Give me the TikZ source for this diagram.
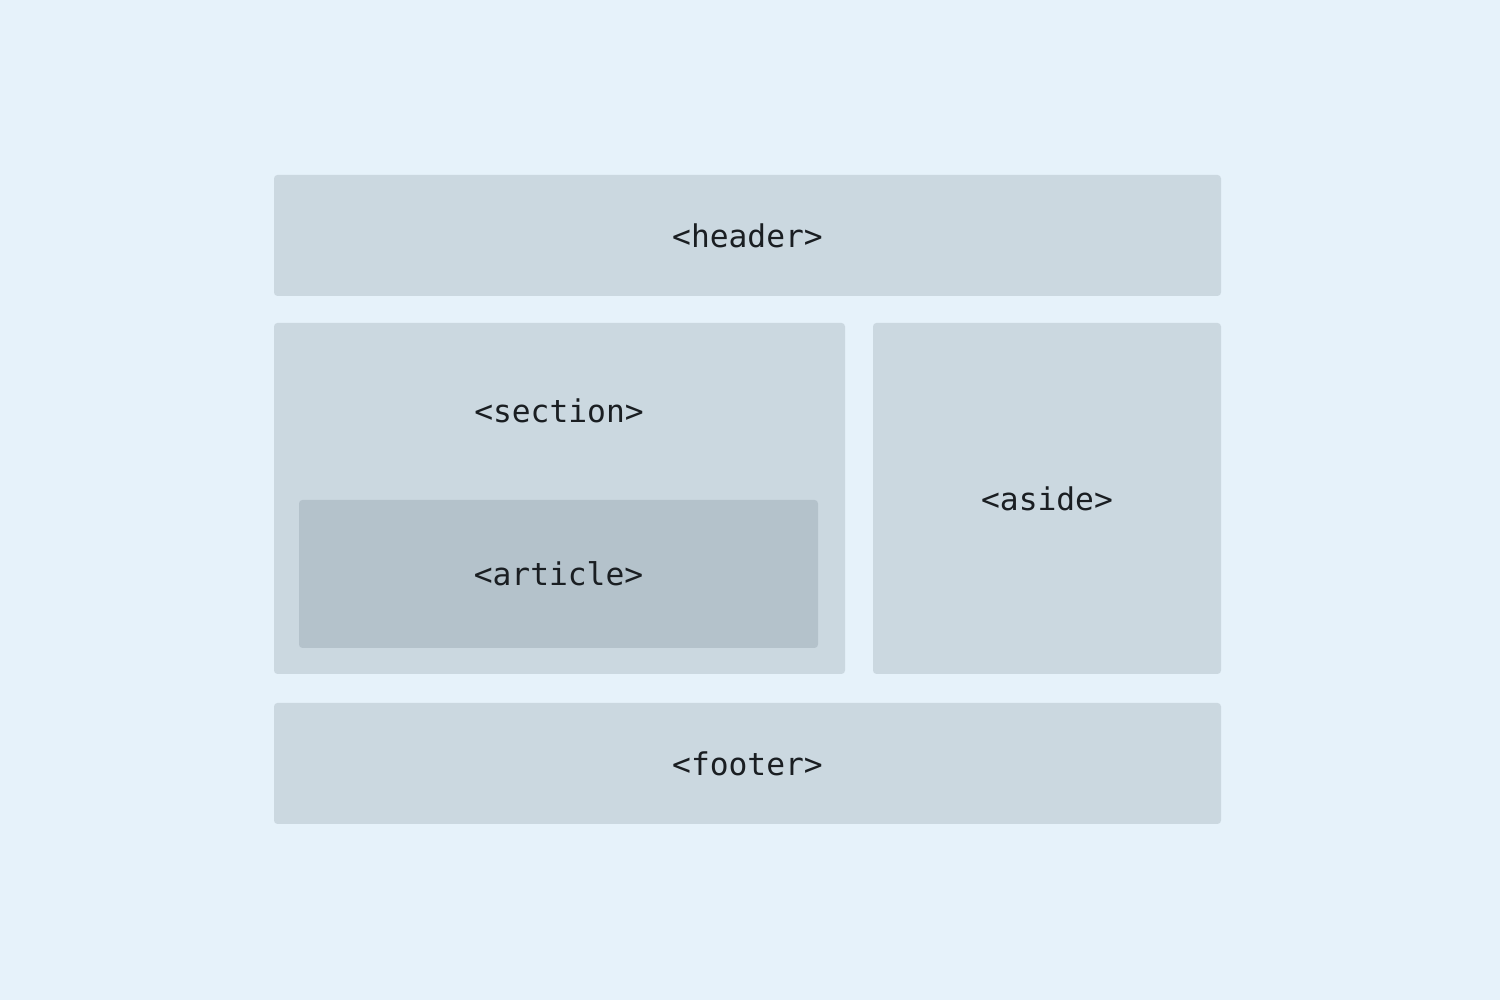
\documentclass[tikz,border=0pt]{standalone}
\usepackage{fontspec}
\setmonofont{DejaVu Sans Mono}
\definecolor{pagebg}{HTML}{E6F2FA}
\definecolor{boxfill}{HTML}{CBD8E0}
\definecolor{innerfill}{HTML}{B4C2CB}
\definecolor{tagtext}{HTML}{1A1E22}
\begin{document}
\begin{tikzpicture}[
  region/.style = {
    shape = rectangle,
    fill = boxfill,
    rounded corners = 1pt,
    inner sep = 0pt,
    outer sep = 0pt,
  },
  tag/.style = {
    text = tagtext,
    font = \ttfamily\fontsize{8.9}{10}\selectfont,
    inner sep = 0pt,
  }
]
  \fill[pagebg] (0, 0) rectangle (15, 10);
  \useasboundingbox (0, 0) rectangle (15, 10);

  \node[region, minimum width = 9.47cm, minimum height = 1.21cm] (header) at (7.475, 7.645) {};
  \node[region, minimum width = 5.71cm, minimum height = 3.51cm] (section) at (5.595, 5.015) {};
  \node[region, minimum width = 3.48cm, minimum height = 3.51cm] (aside) at (10.47, 5.015) {};
  \node[region, fill = innerfill, minimum width = 5.19cm, minimum height = 1.48cm] (article) at (5.585, 4.26) {};
  \node[region, minimum width = 9.47cm, minimum height = 1.21cm] (footer) at (7.475, 2.365) {};

  \begin{scope}[every node/.style = { tag }]
    \node (header label) at (header) {<header>};
    \node (section label) at (5.59, 5.89) {<section>};
    \node (article label) at (article) {<article>};
    \node (aside label) at (aside) {<aside>};
    \node (footer label) at (footer) {<footer>};
  \end{scope}
\end{tikzpicture}
\end{document}
